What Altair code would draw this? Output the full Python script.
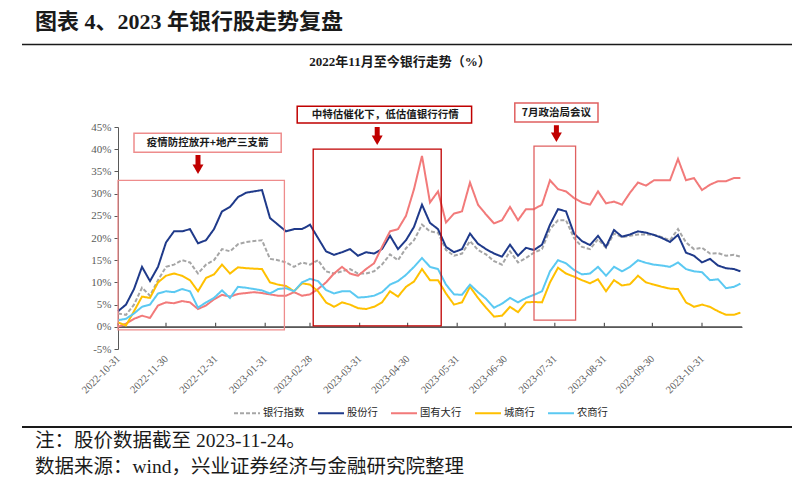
import altair as alt
import pandas as pd

# ---------------- data ----------------
DATES = [
    "2022-10-31", "2022-11-05", "2022-11-10", "2022-11-15", "2022-11-20", "2022-11-25",
    "2022-11-30", "2022-12-05", "2022-12-10", "2022-12-15", "2022-12-20", "2022-12-25",
    "2022-12-30", "2023-01-04", "2023-01-09", "2023-01-14", "2023-01-19", "2023-01-24",
    "2023-01-29", "2023-02-03", "2023-02-08", "2023-02-13", "2023-02-18", "2023-02-23",
    "2023-02-28", "2023-03-05", "2023-03-10", "2023-03-15", "2023-03-20", "2023-03-25",
    "2023-03-30", "2023-04-04", "2023-04-09", "2023-04-14", "2023-04-19", "2023-04-24",
    "2023-04-29", "2023-05-04", "2023-05-09", "2023-05-14", "2023-05-19", "2023-05-24",
    "2023-05-29", "2023-06-03", "2023-06-08", "2023-06-13", "2023-06-18", "2023-06-23",
    "2023-06-28", "2023-07-03", "2023-07-08", "2023-07-13", "2023-07-18", "2023-07-23",
    "2023-07-28", "2023-08-02", "2023-08-07", "2023-08-12", "2023-08-17", "2023-08-22",
    "2023-08-27", "2023-09-01", "2023-09-06", "2023-09-11", "2023-09-16", "2023-09-21",
    "2023-09-26", "2023-10-01", "2023-10-06", "2023-10-11", "2023-10-16", "2023-10-21",
    "2023-10-26", "2023-10-31", "2023-11-05", "2023-11-10", "2023-11-15", "2023-11-20",
    "2023-11-24",
]

BANK_INDEX = [
    3, 2.7, 5, 8.8, 7, 10.5, 13.5, 14, 15, 14.5,
    12, 14, 15, 17.5, 17, 18.6, 19.1, 19.3, 19.5, 15.3,
    15, 14.5, 13.5, 14.5, 14, 15, 12.5, 12, 12.5, 13,
    12, 12, 12.5, 14, 16.3, 15, 17.7, 19.5, 23, 21.5,
    21.2, 17.3, 16, 16.5, 19.3, 17.3, 16.3, 14.8, 14, 17,
    14.5, 15.5, 16.7, 17.5, 22, 24, 24, 20, 18, 17.5,
    19.7, 17.8, 21, 20.2, 20.5, 20.8, 20.8, 20.7, 20.2, 19.5,
    22, 19, 17.5, 17.8, 16.5, 16.6, 16, 16.2, 15.8,
]
JOINT_STOCK = [
    3.5, 5.0, 8.5, 13.5, 10.3, 13.5, 19, 21.5, 21.5, 22,
    18.8, 19.5, 22, 26, 27, 29.2, 30.2, 30.5, 30.8, 24.5,
    23, 21.5, 22, 22, 23, 20, 17, 16.2, 16.8, 17.5,
    16, 16.8, 16.5, 17.5, 20.5, 17.5, 19.5, 22.5, 27.5, 23.4,
    22, 18, 16.8, 17.5, 21, 18.7, 17.5, 16.5, 15.8, 18.5,
    16, 17.8, 17.3, 18.5, 23, 26.5, 26, 21, 19.3, 18.4,
    20.5, 18, 21.8, 20.3, 20.8, 21.5, 21.2, 20.7, 20, 19.1,
    20.7, 16.7, 16, 14.5, 15.3, 13.8, 13.2, 13, 12.5,
]
STATE_OWNED = [
    0, 0.7, 1.8, 2.5, 2, 4.8, 5.5, 5.3, 5.8, 5.5,
    4, 4.8, 6.2, 7.2, 6.8, 7.4, 7.6, 7.8, 7.6, 7.3,
    7, 7, 7.8, 7, 7.3, 8.5, 10, 12, 13.5, 12,
    11.5, 13, 14.3, 18, 21.5, 22, 25, 31, 38.5, 28,
    30.5, 23.5, 25.5, 26, 32.5, 27.5, 25.3, 23.3, 24, 27,
    24, 26.5, 26.5, 27.5, 33, 31, 30.5, 29, 28, 27.5,
    30.5, 27.8, 28.2, 27.5, 30.2, 32.5, 31.8, 33, 33, 33,
    37.8, 33, 33.5, 30.8, 32, 32.8, 32.8, 33.5, 33.5,
]
CITY = [
    1, 0.3, 3.5, 6.8, 6.5, 10, 11.5, 12, 11.5, 10.5,
    8, 11, 11.8, 14, 12, 13.4, 13.2, 13.1, 13, 10,
    9.5, 9.2, 8, 9.8, 9.5, 8, 5.5, 4.5, 5.5, 5,
    4.2, 4, 4.5, 5.5, 8, 6.8, 9, 10.2, 13, 10.5,
    10.5, 7.5, 5, 5.5, 9, 6.5, 4.3, 2.3, 2.5, 4.5,
    3.3, 5.5, 5.6, 5.5, 10, 13.3, 12, 11.3, 10.5, 9.8,
    10.7, 8, 10.5, 9.3, 9.6, 11.5, 10, 9.5, 9, 8.6,
    8.5, 5.5, 4.5, 5, 4.5, 3.5, 2.7, 2.7, 3.2,
]
RURAL = [
    1.5, 1.8, 3, 4.5, 5, 7.5, 8, 7.8, 8.5, 8,
    4.3, 5.5, 6.5, 8.2, 6.5, 9, 8.8, 8.5, 8.2, 7.5,
    8.5, 8.7, 8, 10, 10.8, 10.3, 8.3, 7.5, 8, 8,
    6.6, 6.7, 7, 7.8, 9.5, 10.3, 11.7, 13.5, 15.5, 13.5,
    13, 9.5, 7.3, 7.2, 9.5, 7.8, 6.3, 4.3, 5.2, 6.5,
    5.5, 6.5, 7.2, 8, 12.5, 15, 14.3, 12.8, 11.8, 12,
    13.5, 11.5, 13.5, 12.5, 13.5, 15, 14.4, 14, 13.8, 13.5,
    14.5, 13, 12.5, 12.3, 10.5, 10.7, 8.7, 9, 9.7,
]

SERIES = ["银行指数", "股份行", "国有大行", "城商行", "农商行"]
MONTH_ENDS = [
    "2022-10-31", "2022-11-30", "2022-12-31", "2023-01-31", "2023-02-28",
    "2023-03-31", "2023-04-30", "2023-05-31", "2023-06-30", "2023-07-31",
    "2023-08-31", "2023-09-30", "2023-10-31",
]
X_START, X_END = "2022-10-31", "2023-11-25"
Y_TICKS = [-5, 0, 5, 10, 15, 20, 25, 30, 35, 40, 45]

# annotations (in data coordinates)
EVENT_TEXT = ["疫情防控放开+地产三支箭", "中特估催化下，低估值银行行情", "7月政治局会议"]
EVENT_TEXT_DATE = ["2022-12-26", "2023-04-16", "2023-08-01"]
EVENT_TEXT_VALUE = [41.5, 47.8, 48.2]
BOX_START = ["2022-11-10", "2023-02-20", "2023-07-06"]
BOX_END = ["2023-02-10", "2023-06-09", "2023-08-27"]
BOX_LOW = [39.3, 45.9, 46.1]
BOX_HIGH = [43.6, 49.7, 50.4]
HL_START = ["2022-10-31", "2023-03-02", "2023-07-18"]
HL_END = ["2023-02-12", "2023-05-21", "2023-08-13"]
HL_LOW = [-0.7, 0.2, 1.5]
HL_HIGH = [33.0, 40.0, 40.7]
ARROW_DATE = ["2022-12-20", "2023-04-11", "2023-08-01"]
ARROW_TOP = [38.7, 45.0, 45.4]
ARROW_HEAD = [35.5, 42.0, 42.7]

TITLE = "图表 4、2023 年银行股走势复盘"
SUBTITLE = "2022年11月至今银行走势（%）"
NOTE1 = "注：股价数据截至 2023-11-24。"
NOTE2 = "数据来源：wind，兴业证券经济与金融研究院整理"

# ---------------- styles ----------------
COLORS = ["#A6A6A6", "#1F3A8A", "#F27A7A", "#FFC000", "#5BC9F2"]
DASHES = [[4, 2], [1, 0], [1, 0], [1, 0], [1, 0]]
HL_COLORS = ["#EE8C8C", "#C00000", "#E06060"]
BOX_COLORS = ["#E57373", "#E57373", "#D05050"]
ARROW_COLOR = "#C00000"
SERIF = "Liberation Serif"
CJK = "Noto Sans CJK SC"
MIXED = "Liberation Serif, Noto Sans CJK SC"
AXIS_GRAY = "#595959"
LABEL_GRAY = "#595959"
ZERO_OFFSET = -22.2  # the category axis crosses the value axis at 0 %


def dt(s):
    y, m, d = (int(p) for p in s.split("-"))
    return alt.DateTime(year=y, month=m, date=d, utc=True)


XSCALE = alt.Scale(type="utc", domain=[dt(X_START), dt(X_END)])
YSCALE = alt.Scale(domain=[-5, 45], nice=False, zero=False)

rows = []
for name, vals in zip(SERIES, [BANK_INDEX, JOINT_STOCK, STATE_OWNED, CITY, RURAL]):
    for d, v in zip(DATES, vals):
        rows.append({"date": d, "series": name, "value": v})
df = pd.DataFrame(rows)

LEG = alt.Legend(
    orient="none", legendX=115, legendY=272, direction="horizontal", title=None,
    symbolType="stroke", symbolSize=676, symbolStrokeWidth=2,
    labelFont=CJK, labelFontSize=10.3, labelColor="#262626",
    columnPadding=9, labelOffset=2, padding=0,
)

X_AXIS = alt.Axis(
    values=[dt(s) for s in MONTH_ENDS],
    labelExpr="utcFormat(datum.value, '%Y-%m-%d')",
    labelAngle=315, labelAlign="right", labelBaseline="middle", labelPadding=30,
    offset=ZERO_OFFSET,
    domain=True, domainColor=AXIS_GRAY, domainWidth=1.2,
    ticks=False, grid=False, title=None,
    labelFont=SERIF, labelFontSize=10.5, labelColor=LABEL_GRAY,
    labelOverlap=False, labelFlush=False,
)
Y_AXIS = alt.Axis(
    values=Y_TICKS, labelExpr="datum.value + '%'",
    domainColor=AXIS_GRAY, tickColor=AXIS_GRAY, tickSize=4, grid=False, title=None,
    labelFont=SERIF, labelFontSize=11, labelColor=LABEL_GRAY, labelPadding=3,
)


def xenc(field):
    return alt.X(field, scale=XSCALE, axis=X_AXIS)


def yenc(field):
    return alt.Y(field, scale=YSCALE, axis=Y_AXIS)


lines = alt.Chart(df).mark_line(strokeWidth=2).encode(
    x=xenc("date:T"),
    y=yenc("value:Q"),
    color=alt.Color("series:N", scale=alt.Scale(domain=SERIES, range=COLORS), legend=LEG),
    strokeDash=alt.StrokeDash("series:N", scale=alt.Scale(domain=SERIES, range=DASHES), legend=LEG),
)

zero_df = pd.DataFrame({"d": [X_START, X_END], "v": [0, 0]})
zero_line = alt.Chart(zero_df).mark_line(color=AXIS_GRAY, strokeWidth=1.2).encode(
    x=xenc("d:T"), y=yenc("v:Q"),
)

tick_df = pd.DataFrame({"d": MONTH_ENDS, "lo": [0] * len(MONTH_ENDS), "hi": [0.9] * len(MONTH_ENDS)})
ticks = alt.Chart(tick_df).mark_rule(color=AXIS_GRAY, strokeWidth=1.2).encode(
    x=xenc("d:T"), y=yenc("lo:Q"), y2="hi:Q",
)

hl_df = pd.DataFrame({"s": HL_START, "e": HL_END, "lo": HL_LOW, "hi": HL_HIGH, "id": ["a", "b", "c"]})
highlights = alt.Chart(hl_df).mark_rect(fillOpacity=0, strokeWidth=1.3).encode(
    x=xenc("s:T"), x2="e:T", y=yenc("lo:Q"), y2="hi:Q",
    stroke=alt.Stroke("id:N", scale=alt.Scale(domain=["a", "b", "c"], range=HL_COLORS), legend=None),
)

box_df = pd.DataFrame({"s": BOX_START, "e": BOX_END, "lo": BOX_LOW, "hi": BOX_HIGH, "id": ["a", "b", "c"]})
boxes = alt.Chart(box_df).mark_rect(fill="white", strokeWidth=1.5).encode(
    x=xenc("s:T"), x2="e:T", y=yenc("lo:Q"), y2="hi:Q",
    stroke=alt.Stroke("id:N", scale=alt.Scale(domain=["a", "b", "c"], range=BOX_COLORS), legend=None),
)

ev_df = pd.DataFrame({"t": EVENT_TEXT, "d": EVENT_TEXT_DATE, "v": EVENT_TEXT_VALUE})
event_text = alt.Chart(ev_df).mark_text(
    font=CJK, fontSize=10.5, fontWeight="bold", color="#1A1A1A", align="center", baseline="middle"
).encode(x=xenc("d:T"), y=yenc("v:Q"), text="t:N")

arrow_df = pd.DataFrame({"d": ARROW_DATE, "top": ARROW_TOP, "head": ARROW_HEAD})
arrow_shaft = alt.Chart(arrow_df).mark_rule(color=ARROW_COLOR, strokeWidth=5).encode(
    x=xenc("d:T"), y=yenc("top:Q"), y2="head:Q",
)
arrow_head = alt.Chart(arrow_df).mark_point(
    shape="triangle-down", filled=True, size=120, color=ARROW_COLOR, opacity=1
).encode(x=xenc("d:T"), y=yenc("head:Q"))


def text_layer(txt, x, y, size, weight="normal", align="left", font=MIXED, color="#1A1A1A"):
    return alt.Chart(pd.DataFrame({"t": [txt]})).mark_text(
        font=font, fontSize=size, fontWeight=weight, align=align, baseline="middle", color=color
    ).encode(text="t:N", x=alt.value(x), y=alt.value(y))


def hrule(x1, x2, y, width):
    return alt.Chart(pd.DataFrame({"k": [0]})).mark_rule(color="#1A1A1A", strokeWidth=width).encode(
        x=alt.value(x1), x2=alt.value(x2), y=alt.value(y)
    )


# plot origin sits at page (118, 127)
title = text_layer(TITLE, -83, -105, 22, weight="bold")
subtitle = text_layer(SUBTITLE, 282, -65, 13, weight="bold", align="center")
note1 = text_layer(NOTE1, -83, 314, 19.5)
note2 = text_layer(NOTE2, -83, 340, 19.5)
top_rule = hrule(-96, 682, -82.5, 1.5)
bottom_rule = hrule(-96, 682, 300, 2.2)

chart = alt.layer(
    zero_line, ticks, lines, highlights, boxes, event_text, arrow_shaft, arrow_head,
    title, subtitle, note1, note2, top_rule, bottom_rule,
).properties(
    width=624, height=222,
    autosize=alt.AutoSizeParams(type="none"),
    padding={"left": 110, "top": 119, "right": 50, "bottom": 130},
    background="white",
).configure_view(stroke=None)

chart.save("out.html", embed_options={"renderer": "svg", "actions": False})
